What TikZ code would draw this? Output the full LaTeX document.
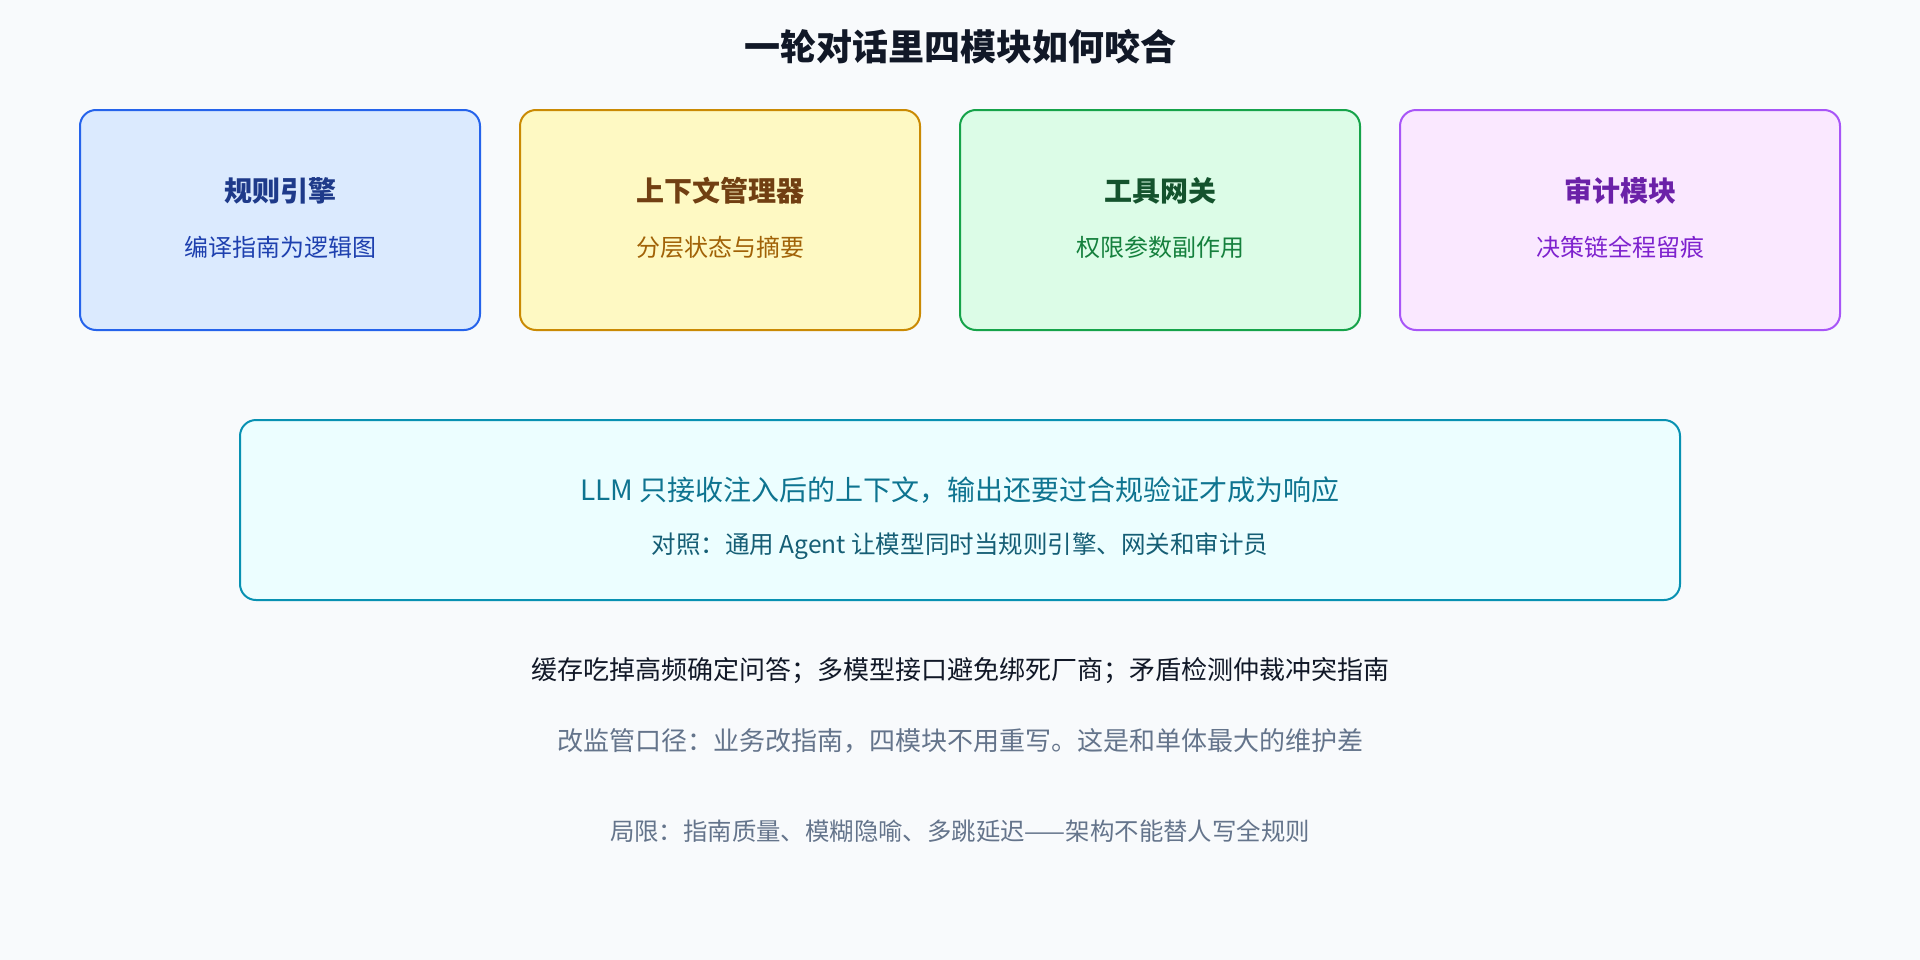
\documentclass[tikz,border=0pt]{standalone}
\usepackage{fontspec}
\setmainfont{Noto Sans CJK SC}
\usepackage{tikz}
\definecolor{pagebg}{HTML}{F8FAFC}
\definecolor{ink}{HTML}{111827}
\definecolor{muted}{HTML}{64748B}
\definecolor{rulefill}{HTML}{DBEAFE}
\definecolor{ruledraw}{HTML}{2563EB}
\definecolor{ruletext}{HTML}{1E3A8A}
\definecolor{rulesub}{HTML}{1E40AF}
\definecolor{ctxfill}{HTML}{FEF9C3}
\definecolor{ctxdraw}{HTML}{CA8A04}
\definecolor{ctxtext}{HTML}{713F12}
\definecolor{ctxsub}{HTML}{A16207}
\definecolor{gwfill}{HTML}{DCFCE7}
\definecolor{gwdraw}{HTML}{16A34A}
\definecolor{gwtext}{HTML}{14532D}
\definecolor{gwsub}{HTML}{15803D}
\definecolor{auditfill}{HTML}{FAE8FF}
\definecolor{auditdraw}{HTML}{A855F7}
\definecolor{audittext}{HTML}{6B21A8}
\definecolor{auditsub}{HTML}{7E22CE}
\definecolor{llmfill}{HTML}{ECFEFF}
\definecolor{llmdraw}{HTML}{0891B2}
\definecolor{llmtext}{HTML}{0E7490}
\definecolor{llmsub}{HTML}{155E75}
\tikzset{
  module/.style={draw, line width=1.5pt, rounded corners=12pt, minimum width=300pt, minimum height=165pt, inner sep=0pt},
  modtitle/.style={font=\fontsize{21}{25}\selectfont\bfseries},
  modsub/.style={font=\fontsize{18}{22}\selectfont},
  note/.style={font=\fontsize{19.5}{24}\selectfont},
}
\begin{document}
\begin{tikzpicture}[x=0.75pt,y=-0.75pt]
            \useasboundingbox (0,0) rectangle (1920,960);
            \fill[pagebg] (0,0) rectangle (1920,960);
            \node[ink, font=\fontsize{27}{32}\selectfont\bfseries] (title) at (960,47) {一轮对话里四模块如何咬合};
            \node[module, fill=rulefill, draw=ruledraw] (rules) at (280,220) {};
            \node[module, fill=ctxfill, draw=ctxdraw] (ctx) at (720,220) {};
            \node[module, fill=gwfill, draw=gwdraw] (gateway) at (1160,220) {};
            \node[module, fill=auditfill, draw=auditdraw, minimum width=330pt] (audit) at (1620,220) {};
            \node[modtitle, ruletext] (rulesT) at (280,191) {规则引擎};
            \node[modsub, rulesub] (rulesS) at (280,247) {编译指南为逻辑图};
            \node[modtitle, ctxtext] (ctxT) at (720,191) {上下文管理器};
            \node[modsub, ctxsub] (ctxS) at (720,247) {分层状态与摘要};
            \node[modtitle, gwtext] (gatewayT) at (1160,191) {工具网关};
            \node[modsub, gwsub] (gatewayS) at (1160,247) {权限参数副作用};
            \node[modtitle, audittext] (auditT) at (1620,191) {审计模块};
            \node[modsub, auditsub] (auditS) at (1620,247) {决策链全程留痕};
            \node[module, fill=llmfill, draw=llmdraw, minimum width=1080pt, minimum height=135pt] (llm) at (960,510) {};
            \node[llmtext, font=\fontsize{21}{25}\selectfont] (llmT) at (960,490) {LLM 只接收注入后的上下文，输出还要过合规验证才成为响应};
            \node[llmsub, font=\fontsize{18.4}{22}\selectfont] (llmS) at (960,546) {对照：通用 Agent 让模型同时当规则引擎、网关和审计员};
            \node[note, ink] (extras) at (960,671) {缓存吃掉高频确定问答；多模型接口避免绑死厂商；矛盾检测仲裁冲突指南};
            \node[note, muted] (upkeep) at (960,741) {改监管口径：业务改指南，四模块不用重写。这是和单体最大的维护差};
            \node[muted, font=\fontsize{18.3}{22}\selectfont] (limits) at (960,831) {局限：指南质量、模糊隐喻、多跳延迟——架构不能替人写全规则};
        \end{tikzpicture}
\end{document}
